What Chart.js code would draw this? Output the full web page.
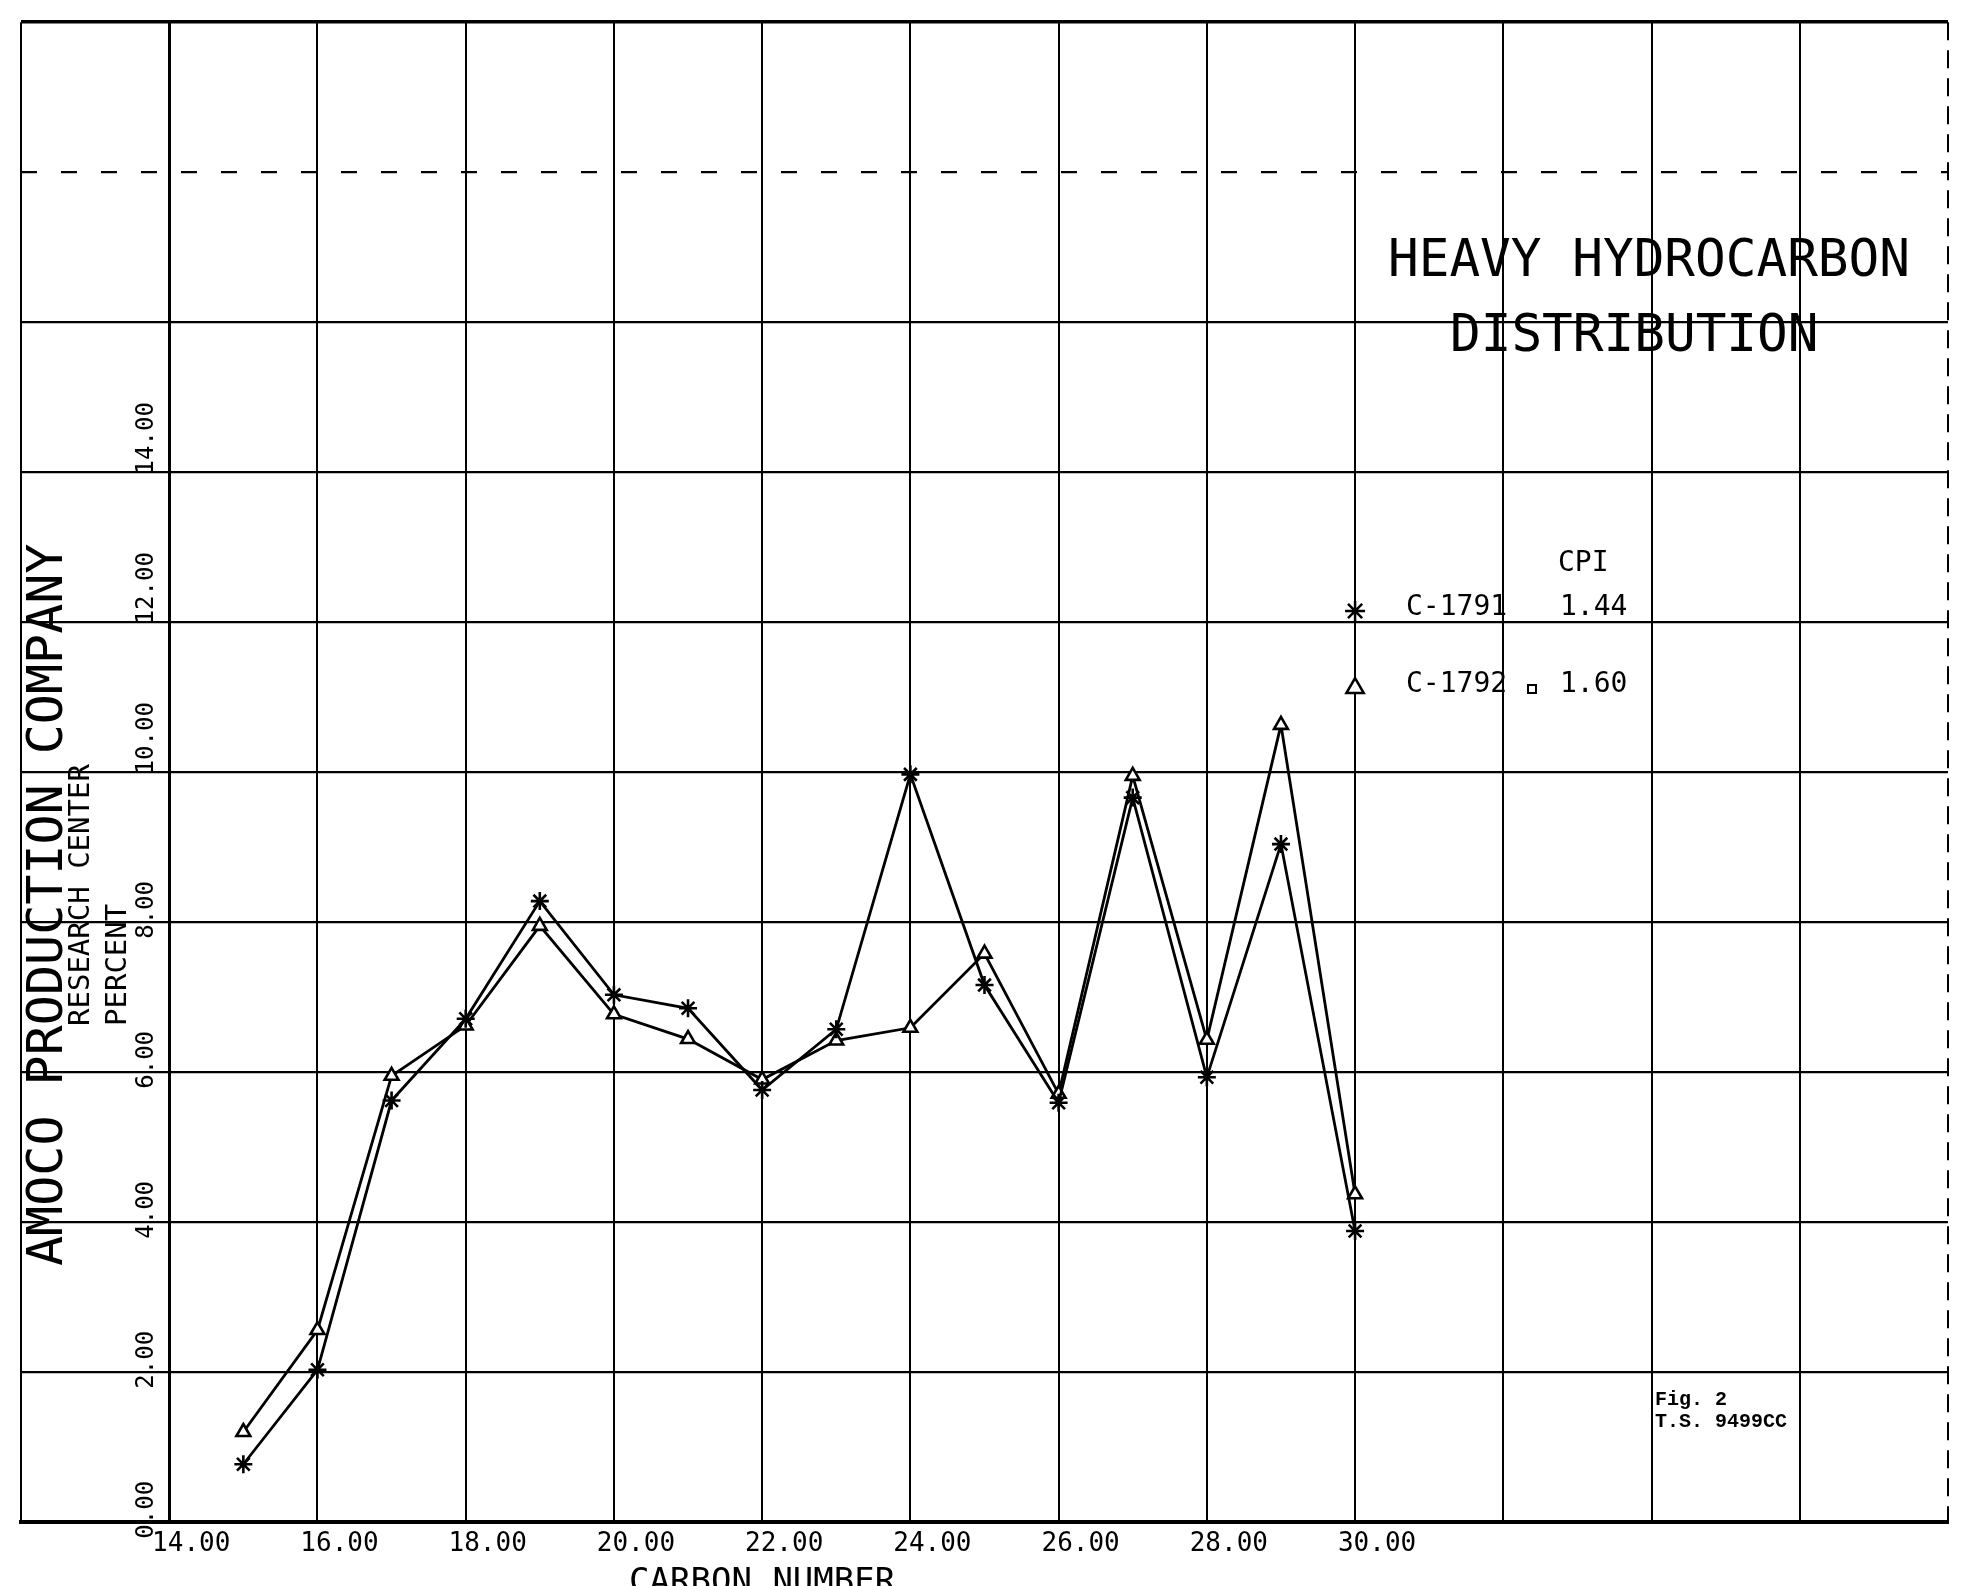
<!DOCTYPE html>
<html>
<head>
<meta charset="utf-8">
<title>Heavy Hydrocarbon Distribution</title>
<script src="https://cdn.jsdelivr.net/npm/chart.js@4.4.0/dist/chart.umd.min.js"></script>
<style>
    html, body { margin: 0; padding: 0; background: #fff; }
    canvas { display: block; }
</style>
</head>
<body>
<canvas id="hydrocarbonChart" width="1962" height="1586"></canvas>
<script>
// Carbon numbers plotted on the x axis
const carbonNumbers = [15, 16, 17, 18, 19, 20, 21, 22, 23, 24, 25, 26, 27, 28, 29, 30];
// Percent per carbon number, sample C-1791 (asterisks)
const c1791 = [0.77, 2.03, 5.62, 6.71, 8.28, 7.03, 6.85, 5.76, 6.57, 9.97, 7.16, 5.59, 9.66, 5.93, 9.04, 3.88];
// Percent per carbon number, sample C-1792 (triangles)
const c1792 = [1.20, 2.56, 5.95, 6.62, 7.95, 6.77, 6.44, 5.90, 6.42, 6.59, 7.58, 5.71, 9.95, 6.43, 10.63, 4.37];
// Tick values that carry a label
const xTickLabels = [14, 16, 18, 20, 22, 24, 26, 28, 30];
const yTickLabels = [0, 2, 4, 6, 8, 10, 12, 14];
// CPI legend rows
const sampleNames = ['C-1791', 'C-1792'];
const cpiValues = ['1.44', '1.60'];

const mono = '"DejaVu Sans Mono", "Liberation Mono", monospace';
Chart.defaults.font.family = mono;
Chart.defaults.color = '#000';

function toPoints(values) {
    return carbonNumbers.map((c, i) => ({ x: c, y: values[i] }));
}

function rotatedText(ctx, text, x, y, font) {
    ctx.save();
    ctx.translate(x, y);
    ctx.rotate(-Math.PI / 2);
    ctx.font = font;
    ctx.textAlign = 'left';
    ctx.textBaseline = 'middle';
    ctx.fillText(text, 0, 0);
    ctx.restore();
}

// Header texts, CPI legend and figure note
const annotations = {
    id: 'annotations',
    afterDraw(chart) {
        const ctx = chart.ctx;
        const xs = chart.scales.x;
        ctx.save();
        ctx.fillStyle = '#000';
        ctx.strokeStyle = '#000';

        rotatedText(ctx, 'AMOCO PRODUCTION COMPANY', 49, 1266, '50px ' + mono);
        rotatedText(ctx, 'RESEARCH CENTER', 81, 1026, '29px ' + mono);
        rotatedText(ctx, 'PERCENT', 118, 1026, '29px ' + mono);

        ctx.textAlign = 'left';
        ctx.textBaseline = 'alphabetic';
        ctx.font = '51px ' + mono;
        ctx.fillText('HEAVY HYDROCARBON', 1388, 276);
        ctx.fillText('DISTRIBUTION', 1450, 351);

        ctx.font = '28px ' + mono;
        ctx.fillText('CPI', 1558, 571);
        const rowY = [615, 692];
        const styles = ['star', 'triangle'];
        ctx.lineWidth = 2.5;
        sampleNames.forEach((name, i) => {
            ctx.fillStyle = '#000';
            ctx.fillText(name, 1406, rowY[i]);
            ctx.fillText(cpiValues[i], 1560, rowY[i]);
            ctx.fillStyle = '#fff';
            Chart.helpers.drawPoint(ctx, { pointStyle: styles[i], radius: 10, borderWidth: 2.5, rotation: 0 },
                xs.getPixelForValue(30), rowY[i] - 4);
        });
        ctx.fillStyle = '#000';
        ctx.lineWidth = 2;
        ctx.strokeRect(1528, 685, 8, 8);

        // x axis title, centred under the labelled range
        ctx.font = '34px ' + mono;
        ctx.textAlign = 'center';
        ctx.fillText('CARBON NUMBER', xs.getPixelForValue(22), 1592);

        ctx.font = 'bold 20px "Liberation Mono", monospace';
        ctx.textAlign = 'left';
        ctx.fillText('Fig. 2', 1655, 1405);
        ctx.fillText('T.S. 9499CC', 1655, 1427);
        ctx.restore();
    }
};

const data = {
    datasets: [{
        label: 'C-1791',
        data: toPoints(c1791),
        borderColor: '#000',
        borderWidth: 2.8,
        pointStyle: 'star',
        pointRadius: 9,
        pointBorderWidth: 2.6,
        pointBorderColor: '#000',
        pointBackgroundColor: '#000',
        tension: 0
    }, {
        label: 'C-1792',
        data: toPoints(c1792),
        borderColor: '#000',
        borderWidth: 2.8,
        pointStyle: 'triangle',
        pointRadius: 8,
        pointBorderWidth: 2.6,
        pointBorderColor: '#000',
        pointBackgroundColor: '#fff',
        tension: 0
    }]
};

const config = {
    type: 'line',
    data: data,
    options: {
        responsive: false,
        animation: false,
        layout: { padding: { left: 21, right: 14, top: 22, bottom: 0 } },
        plugins: {
            legend: { display: false },
            tooltip: { enabled: false }
        },
        scales: {
            x: {
                type: 'linear',
                position: 'bottom',
                min: 12,
                max: 38,
                ticks: {
                    stepSize: 2,
                    autoSkip: false,
                    maxRotation: 0,
                    labelOffset: 22,
                    padding: 7,
                    font: { size: 26 },
                    callback: v => xTickLabels.includes(v) ? v.toFixed(2) : ''
                },
                grid: { color: '#000', lineWidth: 2, drawTicks: false },
                border: {
                    color: '#000',
                    width: 4,
                    dash: ctx => (ctx.tick && ctx.tick.value === 38) ? [18, 10] : []
                },
                afterFit(scale) { scale.height = 64; }
            },
            y: {
                type: 'linear',
                position: { x: 14 },
                min: 0,
                max: 20,
                ticks: {
                    stepSize: 2,
                    minRotation: 90,
                    maxRotation: 90,
                    padding: 0,
                    labelOffset: -70,
                    font: { size: 24, lineHeight: 1.85 },
                    // labels are end-aligned; one-digit ones get two trailing spaces like the plotter output
                    callback: v => {
                        if (!yTickLabels.includes(v)) return '';
                        const s = v.toFixed(2);
                        return [v < 10 ? s + '  ' : s, ''];
                    }
                },
                grid: {
                    color: '#000',
                    lineWidth: ctx => (ctx.tick && ctx.tick.value === 20) ? 3.5 : 2.2,
                    drawTicks: false
                },
                border: {
                    color: '#000',
                    width: 3,
                    dash: ctx => (ctx.tick && ctx.tick.value === 18) ? [16, 24] : []
                }
            }
        }
    },
    plugins: [annotations]
};

const hydrocarbonChart = document.getElementById('hydrocarbonChart').getContext('2d');
new Chart(hydrocarbonChart, config);
</script>
</body>
</html>
